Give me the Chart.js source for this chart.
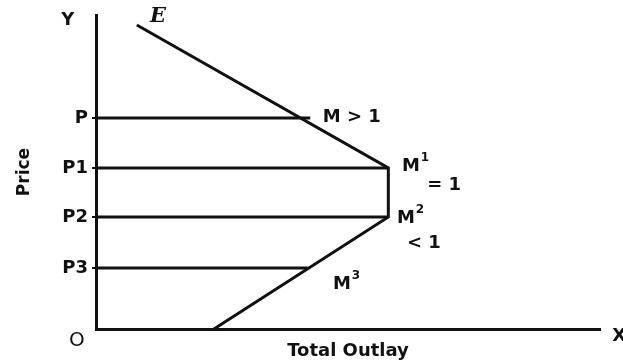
<!DOCTYPE html>
<html>
<head>
<meta charset="utf-8">
<script src="https://cdn.jsdelivr.net/npm/chart.js@4.4.0/dist/chart.umd.min.js"></script>
<style>
  html, body { margin: 0; padding: 0; background: #fff; }
  #wrap { width: 623px; height: 362px; }
</style>
</head>
<body>
<div id="wrap"><canvas id="chart"></canvas></div>
<script>
// price levels on the Y axis
const priceLabels = ["P", "P1", "P2", "P3"];
const priceLevels = [6.72, 5.13, 3.57, 1.94];

// how far each price line runs out towards the outlay curve
const outlayAtPrice = [4.25, 5.8, 5.8, 4.2];

// the outlay curve E, from top to bottom
const curveX = [0.81, 5.8, 5.8, 2.34];
const curveY = [9.68, 5.13, 3.57, 0];

// text written on the diagram (in axis units)
const notes = [
  { text: "Y", x: -0.56, y: 9.84, align: "center" },
  { text: "E", x: 1.23, y: 9.94, align: "center", font: "italic bold 21px 'DejaVu Serif'" },
  { text: "M > 1", x: 4.5, y: 6.75 },
  { text: "M", sup: "1", x: 6.07, y: 5.19 },
  { text: "= 1", x: 6.57, y: 4.59 },
  { text: "M", sup: "2", x: 5.97, y: 3.54 },
  { text: "< 1", x: 6.17, y: 2.74 },
  { text: "M", sup: "3", x: 4.7, y: 1.43 },
  { text: "O", x: -0.38, y: -0.38, align: "center", font: "20px 'DejaVu Sans'" },
  { text: "X", x: 10.38, y: -0.22, align: "center" }
];

const INK = "#111";
const FONT = "'DejaVu Sans', sans-serif";

const datasets = [{
  data: curveX.map((x, i) => ({ x, y: curveY[i] }))
}];
priceLevels.forEach((p, i) => {
  datasets.push({ data: [{ x: 0, y: p }, { x: outlayAtPrice[i], y: p }] });
});
datasets.forEach(d => {
  d.showLine = true;
  d.borderColor = INK;
  d.borderWidth = 3;
  d.pointRadius = 0;
  d.clip = false;
});

// draws the letters and labels placed on the diagram
const notePlugin = {
  id: "notes",
  afterDraw(chart) {
    const { ctx, scales: { x, y } } = chart;
    ctx.save();
    ctx.fillStyle = INK;
    ctx.textBaseline = "middle";
    notes.forEach(n => {
      const px = x.getPixelForValue(n.x);
      const py = y.getPixelForValue(n.y);
      ctx.font = n.font || "bold 18px " + FONT;
      ctx.textAlign = n.align || "left";
      ctx.fillText(n.text, px, py);
      if (n.sup) {
        const w = ctx.measureText(n.text).width;
        ctx.font = "bold 12px " + FONT;
        ctx.fillText(n.sup, px + w + 1, py - 8);
      }
    });
    ctx.restore();
  }
};

new Chart(document.getElementById("chart"), {
  type: "scatter",
  data: { datasets },
  plugins: [notePlugin],
  options: {
    responsive: true,
    maintainAspectRatio: false,
    animation: false,
    layout: { padding: { top: 15, right: 23, bottom: 0, left: 0 } },
    plugins: { legend: { display: false }, tooltip: { enabled: false } },
    scales: {
      x: {
        min: 0, max: 10,
        grid: { display: false },
        border: { display: true, color: INK, width: 3 },
        ticks: { display: false },
        title: {
          display: true, text: "Total Outlay", color: INK,
          font: { family: FONT, size: 18, weight: "bold" },
          padding: { top: 0, bottom: 0 }
        },
        afterFit(scale) { scale.height = 33; }
      },
      y: {
        min: 0, max: 10,
        grid: { drawOnChartArea: false, drawTicks: true, tickLength: 4, color: INK, lineWidth: 2 },
        border: { display: true, color: INK, width: 3 },
        afterBuildTicks(axis) {
          axis.ticks = priceLevels.map(v => ({ value: v }));
        },
        ticks: {
          color: INK,
          padding: 4,
          font: { family: FONT, size: 18, weight: "bold" },
          callback: (v, i) => priceLabels[i]
        },
        title: {
          display: true, text: "Price", color: INK,
          font: { family: FONT, size: 17, weight: "bold" },
          padding: { top: 14, bottom: 0 }
        },
        afterFit(scale) { scale.width = 96; }
      }
    }
  }
});
</script>
</body>
</html>
